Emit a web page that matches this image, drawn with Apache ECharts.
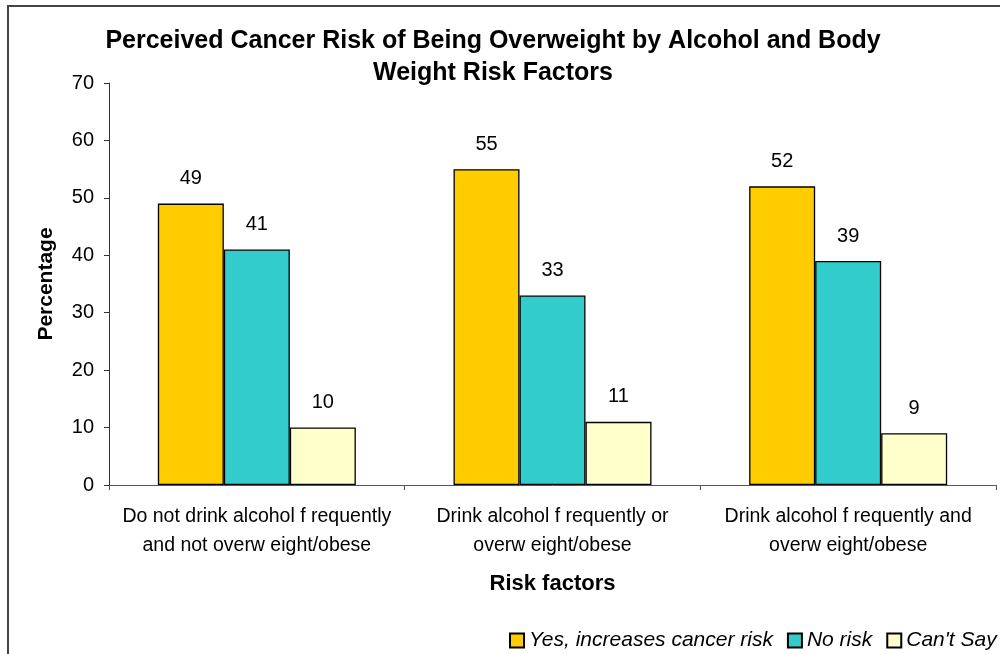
<!DOCTYPE html>
<html>
<head>
<meta charset="utf-8">
<style>
  html, body { margin: 0; padding: 0; background: #fff; }
  #chart { width: 1000px; height: 654px; }
</style>
<script src="https://cdn.jsdelivr.net/npm/echarts@6/dist/echarts.min.js"></script>
</head>
<body>
<div id="chart"></div>
<script>
// Risk factor groups along the x axis
const categories = [
  'Do not drink alcohol f requently\nand not overw eight/obese',
  'Drink alcohol f requently or\noverw eight/obese',
  'Drink alcohol f requently and\noverw eight/obese'
];
// Share of respondents (%) for each answer
const yesIncreases = [49, 55, 52];
const noRisk = [41, 33, 39];
const cantSay = [10, 11, 9];
const seriesNames = ['Yes, increases cancer risk', 'No risk', "Can't Say"];
const seriesColors = ['#FFCC00', '#33CCCC', '#FFFFCC'];
const yTicks = { min: 0, max: 70, interval: 10 };

const FONT = '"Liberation Sans", Arial, sans-serif';

function barSeries(name, data, color) {
  return {
    name: name,
    type: 'bar',
    data: data,
    barWidth: 66,
    barGap: '0%',
    itemStyle: { color: color, borderColor: '#000', borderWidth: 1.3 },
    label: {
      show: true,
      position: 'top',
      distance: 15,
      color: '#000',
      fontFamily: FONT,
      fontSize: 20
    }
  };
}

const chart = echarts.init(document.getElementById('chart'), null, { renderer: 'canvas' });
chart.setOption({
  animation: false,
  backgroundColor: '#fff',
  graphic: [
    {
      type: 'rect',
      shape: { x: 8, y: 6, width: 1100, height: 800 },
      style: { fill: 'none', stroke: '#444', lineWidth: 2 },
      silent: true
    },
    {
      type: 'text',
      x: 493, y: 57,
      style: {
        text: 'Perceived Cancer Risk of Being Overweight by Alcohol and Body\nWeight Risk Factors',
        fill: '#000',
        font: 'bold 25px ' + FONT,
        align: 'center',
        verticalAlign: 'middle',
        lineHeight: 32
      }
    }
  ],
  grid: { left: 109, right: 4, top: 83, bottom: 169, containLabel: false },
  legend: {
    left: 504,
    top: 625,
    width: 640,
    icon: 'rect',
    itemWidth: 14,
    itemHeight: 14,
    itemGap: 14,
    textStyle: { fontFamily: FONT, fontSize: 21, fontStyle: 'italic', color: '#000' },
    data: seriesNames
  },
  xAxis: {
    type: 'category',
    data: categories,
    name: 'Risk factors',
    nameLocation: 'middle',
    nameGap: 88,
    nameTextStyle: { fontFamily: FONT, fontSize: 22, fontWeight: 'bold', color: '#000' },
    axisLine: { lineStyle: { color: '#555', width: 1 } },
    axisTick: { show: true, length: 5, lineStyle: { color: '#555' } },
    axisLabel: { interval: 0, fontFamily: FONT, fontSize: 19.5, color: '#000', margin: 17, lineHeight: 29 }
  },
  yAxis: {
    type: 'value',
    min: yTicks.min,
    max: yTicks.max,
    interval: yTicks.interval,
    name: 'Percentage',
    nameLocation: 'middle',
    nameGap: 52,
    nameTextStyle: { fontFamily: FONT, fontSize: 21, fontWeight: 'bold', color: '#000' },
    axisLine: { show: true, lineStyle: { color: '#333', width: 1 } },
    axisTick: { show: true, length: 5, lineStyle: { color: '#333' } },
    splitLine: { show: false },
    axisLabel: { fontFamily: FONT, fontSize: 20, color: '#000', margin: 15 }
  },
  series: [
    barSeries(seriesNames[0], yesIncreases, seriesColors[0]),
    barSeries(seriesNames[1], noRisk, seriesColors[1]),
    barSeries(seriesNames[2], cantSay, seriesColors[2])
  ]
});
</script>
</body>
</html>
